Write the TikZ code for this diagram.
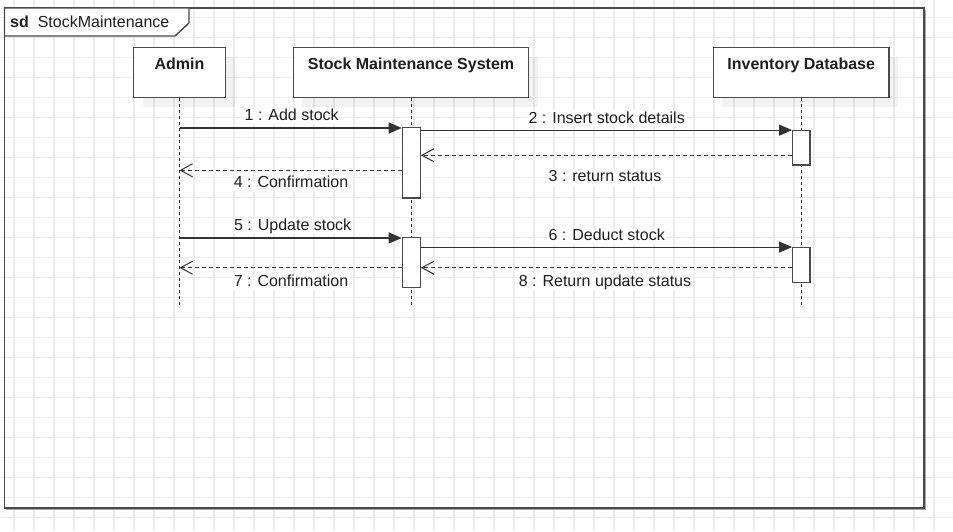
\documentclass[tikz,border=0pt]{standalone}
\usepackage{fontspec}
\setmainfont{Liberation Sans}
\usetikzlibrary{arrows.meta,shadows}
\definecolor{gridc}{HTML}{EDEDED}
\definecolor{linec}{HTML}{4A4A4A}
\definecolor{txtc}{HTML}{1E1E1E}
\tikzset{
  pbox/.style={draw=linec, line width=1.4pt, fill=white, inner sep=0pt,
    drop shadow={shadow xshift=9pt, shadow yshift=-9pt, fill=black, opacity=0.05}},
  ptext/.style={font=\fontsize{16}{19}\selectfont\bfseries, text=txtc, anchor=base, inner sep=0pt},
  actbar/.style={draw=linec, line width=1.2pt, fill=white, minimum width=18pt, inner sep=0pt},
  lifeline/.style={draw=black!85, line width=1pt, dash pattern=on 3pt off 3pt},
  sync/.style={draw=black!80, line width=1.2pt, -{Triangle[length=13pt,width=11pt]}},
  reply/.style={draw=black!80, line width=1pt, dash pattern=on 4pt off 3pt, -{Straight Barb[length=12pt,width=13pt,line width=1pt]}},
  msglabel/.style={font=\fontsize{16}{19}\selectfont, text=txtc, fill=white, inner sep=0.5pt, text height=11.5pt, text depth=3pt}
}
\begin{document}
\begin{tikzpicture}[x=1pt,y=-1pt]
\useasboundingbox (0,0) rectangle (953,531);
\fill[white] (0,0) rectangle (953,531);
% grid
\foreach \gx in {14,34,...,954} {\draw[gridc, line width=1.3pt] (\gx,0) -- (\gx,531);}
\foreach \gy in {17.3,37.3,...,537.3} {\draw[gridc, line width=1.3pt] (0,\gy) -- (953,\gy);}
% frame
\draw[black!35, line width=1pt] (6,509.5) -- (925.5,509.5) -- (925.5,9.5);
\draw[linec, line width=1.4pt] (4.5,8) rectangle (924,508);
\filldraw[fill=white, draw=linec, line width=1.4pt] (4.5,8) -- (189,8) -- (189,23) -- (175,36) -- (4.5,36) -- cycle;
\node[font=\fontsize{16}{19}\selectfont, text=txtc, anchor=base west, inner sep=0pt] (title) at (10,27) {\textbf{sd}\ \ StockMaintenance};
% participants
\node[pbox, minimum width=92pt, minimum height=50pt] (admin) at (179.5,72.7) {};
\node[pbox, minimum width=235.4pt, minimum height=50pt] (sms) at (411,72.7) {};
\node[pbox, minimum width=175.7pt, minimum height=50pt] (db) at (801.2,72.7) {};
\node[ptext] (admint) at ([yshift=-22.3pt]admin.north) {Admin};
\node[ptext] (smst) at ([yshift=-22.3pt]sms.north) {Stock Maintenance System};
\node[ptext] (dbt) at ([yshift=-22.3pt]db.north) {Inventory Database};
% lifeline ends
\coordinate (lend) at (0,305);
\draw[lifeline] (admin.south) -- (admin.south |- lend);
\draw[lifeline] (sms.south) -- (sms.south |- lend);
\draw[lifeline] (db.south) -- (db.south |- lend);
% activation bars
\node[actbar, minimum height=70.3pt] (bar1) at (411.3,162.85) {};
\node[actbar, minimum height=50.4pt] (bar2) at (411.3,262.5) {};
\node[actbar, minimum width=17.3pt, minimum height=34.3pt] (dbbar1) at (801.35,147.85) {};
\node[actbar, minimum width=17.3pt, minimum height=35pt] (dbbar2) at (801.35,265.2) {};
% message heights
\coordinate (y1) at (0,128);
\coordinate (y3) at (0,155.3);
\coordinate (y4) at (0,170.3);
\coordinate (y5) at (0,238);
\coordinate (y7) at (0,267.7);
% messages
\draw[sync] (admin.south |- y1) -- (bar1.west |- y1);
\draw[sync] (bar1.east |- dbbar1.north) -- (dbbar1.north west);
\draw[reply] (dbbar1.west |- y3) -- (bar1.east |- y3);
\draw[reply] (bar1.west |- y4) -- (admin.south |- y4);
\draw[sync] (admin.south |- y5) -- (bar2.west |- y5);
\draw[sync] (bar2.east |- dbbar2.north) -- (dbbar2.north west);
\draw[reply] (bar2.west |- y7) -- (admin.south |- y7);
\draw[reply] (dbbar2.west |- y7) -- (bar2.east |- y7);
% labels
\node[msglabel] (l1) at (291.7,116.5) {1 : Add stock};
\node[msglabel] (l2) at (606.7,118.8) {2 : Insert stock details};
\node[msglabel] (l3) at (605,177) {3 : return status};
\node[msglabel] (l4) at (291,183.5) {4 : Confirmation};
\node[msglabel] (l5) at (292.7,226.5) {5 : Update stock};
\node[msglabel] (l6) at (606.7,236.5) {6 : Deduct stock};
\node[msglabel] (l7) at (291,282.2) {7 : Confirmation};
\node[msglabel] (l8) at (605,281.8) {8 : Return update status};
\end{tikzpicture}
\end{document}
